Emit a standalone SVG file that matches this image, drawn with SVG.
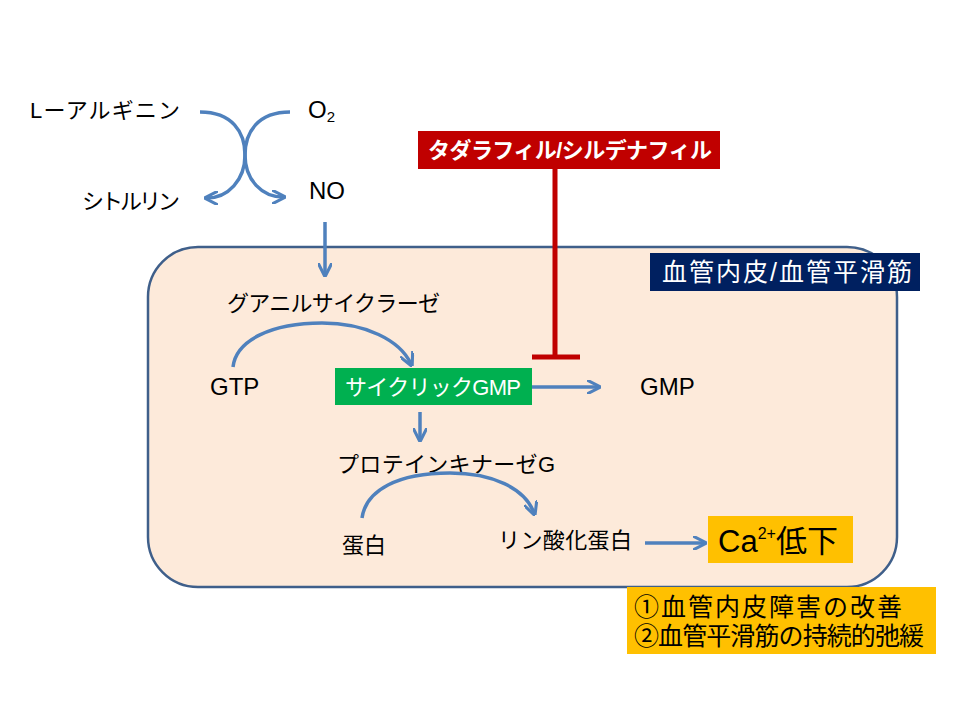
<svg xmlns="http://www.w3.org/2000/svg" width="960" height="720" viewBox="0 0 960 720">
<defs>
<style>
text{font-family:"Liberation Sans","Noto Sans CJK JP",sans-serif;fill:#000}
.lbl{font-size:22px}
.lat{font-size:24px}
.w{fill:#fff}
.arr{fill:none;stroke:#4F81BD;stroke-width:3.5;marker-end:url(#ah)}
</style>
<marker id="ah" viewBox="0 0 10 10" refX="8" refY="5" markerWidth="4" markerHeight="4" orient="auto" markerUnits="strokeWidth">
<path d="M0,0 L10,5 L0,10" fill="none" stroke="#4F81BD" stroke-width="2.2"/>
</marker>
</defs>
<rect width="960" height="720" fill="#fff"/>
<g id="cell">
<rect x="148" y="247" width="749" height="340" rx="50" ry="50" fill="#FDEADA" stroke="#3F5F8A" stroke-width="2.5"/>
</g>
<g id="cell-label">
<rect x="650" y="253" width="270" height="38" fill="#002060"/>
<text x="662" y="281" class="w" font-size="25" textLength="250">血管内皮/血管平滑筋</text>
</g>
<g id="drug">
<rect x="418" y="131" width="302" height="38" fill="#C00000"/>
<text x="428" y="158" class="w" font-size="22" font-weight="bold" textLength="284">タダラフィル/シルデナフィル</text>
</g>
<g id="arginine"><text x="30" y="118" class="lbl" textLength="150">Lーアルギニン</text></g>
<g id="o2"><text x="308" y="118" class="lat">O<tspan font-size="15" dy="4">2</tspan></text></g>
<g id="citrulline"><text x="82" y="209" class="lbl" textLength="98">シトルリン</text></g>
<g id="no"><text x="309" y="199" class="lat">NO</text></g>
<g id="gc"><text x="227" y="311" class="lbl" textLength="213">グアニルサイクラーゼ</text></g>
<g id="gtp"><text x="210" y="395" class="lat">GTP</text></g>
<g id="cgmp">
<rect x="335" y="368" width="197" height="37" fill="#00B050"/>
<text x="345" y="395" class="w" font-size="22" textLength="176">サイクリックGMP</text>
</g>
<g id="gmp"><text x="640" y="395" class="lat">GMP</text></g>
<g id="pkg"><text x="337" y="472" class="lbl" textLength="218">プロテインキナーゼG</text></g>
<g id="protein"><text x="342" y="553" class="lbl" textLength="44">蛋白</text></g>
<g id="pprotein"><text x="498" y="548" class="lbl" textLength="134">リン酸化蛋白</text></g>
<g id="ca">
<rect x="708" y="516" width="145" height="47" fill="#FFC000"/>
<text x="718" y="552" font-size="31">Ca<tspan font-size="16" dy="-13">2+</tspan><tspan dy="13">低下</tspan></text>
</g>
<g id="effects">
<rect x="627" y="587" width="309" height="67" fill="#FFC000"/>
<text x="634" y="616" font-size="25" textLength="268">①血管内皮障害の改善</text>
<text x="634" y="645" font-size="25" textLength="290">②血管平滑筋の持続的弛緩</text>
</g>
<g id="connectors">
<path class="arr" d="M200,112 C232,112 245,132 245,155 C245,180 262,197 283,197"/>
<path class="arr" d="M290,112 C258,112 245,132 245,155 C245,180 228,198 207,198"/>
<path class="arr" d="M325,222 L325,274"/>
<path class="arr" d="M233,367 C236,340 272,323 322,323 C365,323 400,340 411,364"/>
<path class="arr" d="M532,387 L598,387"/>
<path class="arr" d="M420,412 L420,439"/>
<path class="arr" d="M362,518 C366,490 398,473 450,473 C492,473 525,488 534,513"/>
<path class="arr" d="M645,543 L704,543"/>
<path d="M555,169 L555,355 M532,357 L580,357" fill="none" stroke="#C00000" stroke-width="5"/>
</g>
</svg>
